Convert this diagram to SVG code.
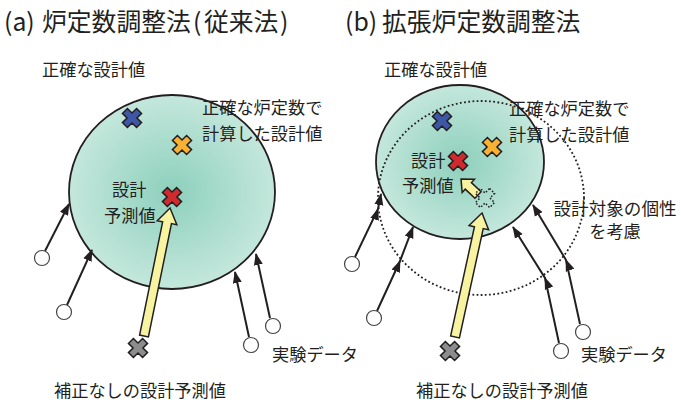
<svg xmlns="http://www.w3.org/2000/svg" width="681" height="402" viewBox="0 0 681 402">
<defs>
<radialGradient id="g" cx="50%" cy="50%" r="50%">
<stop offset="0" stop-color="#8dd0bb"/>
<stop offset="1" stop-color="#c4e7dc"/>
</radialGradient>
<marker id="ah" markerUnits="userSpaceOnUse" markerWidth="12" markerHeight="10" viewBox="0 0 12 10" refX="11" refY="5" orient="auto"><path d="M0,0.5 L12,5 L0,9.5 z" fill="#231f20"/></marker>
<path id="xm" transform="rotate(45)" d="M-3.5,-10 H3.5 V-3.5 H10 V3.5 H3.5 V10 H-3.5 V3.5 H-10 V-3.5 H-3.5 Z"/>
</defs>
<style>
text{font-family:"Noto Sans CJK JP","Noto Sans",sans-serif;fill:#231f20;font-size:17.2px}
.title{font-size:24.8px}
.blob{fill:url(#g);stroke:#231f20;stroke-width:1.8}
.dotted{fill:none;stroke:#231f20;stroke-width:1.8;stroke-dasharray:1.8 2.4}
.conn{fill:none;stroke:#231f20;stroke-width:2;marker-end:url(#ah)}
.conn2{fill:none;stroke:#231f20;stroke-width:2;marker-mid:url(#ah);marker-end:url(#ah)}
.dp{fill:#fff;stroke:#444;stroke-width:1.2}
.x{stroke:#231f20;stroke-width:1.5}
.xd{fill:none;stroke:#231f20;stroke-width:1.5;stroke-dasharray:1.6 1.8}
.ya{fill:#f7f3a1;stroke:#231f20;stroke-width:1.5}
</style>

<!-- Panel (a) -->
<g id="region-a">
<ellipse class="blob" cx="172" cy="192" rx="103" ry="97"/>
</g>

<g id="connectors">
<path class="conn" d="M45,251 L69,204"/>
<path class="conn" d="M67,305 L92,250"/>
<path class="conn" d="M249,337 L235,272"/>
<path class="conn" d="M270,318 L256,254"/>
</g>

<g id="region-b">
<ellipse class="blob" cx="460" cy="162" rx="84" ry="77"/>
<ellipse class="dotted" cx="481" cy="198" rx="103" ry="97"/>
</g>

<g id="connectors-b">
<polyline class="conn2" points="355,257 378,209 381,194"/>
<polyline class="conn2" points="377,311 400,261 413,227"/>
<polyline class="conn2" points="559,343 545,278 513,227"/>
<polyline class="conn2" points="580,324 566,260 533,205"/>
</g>

<g id="data-a">
<circle class="dp" cx="42" cy="258" r="7.5"/>
<circle class="dp" cx="64" cy="312" r="7.5"/>
<circle class="dp" cx="251" cy="345" r="7.5"/>
<circle class="dp" cx="273" cy="326" r="7.5"/>
</g>
<g id="data-b">
<circle class="dp" cx="352" cy="264" r="7.5"/>
<circle class="dp" cx="374" cy="318" r="7.5"/>
<circle class="dp" cx="561" cy="351" r="7.5"/>
<circle class="dp" cx="583" cy="332" r="7.5"/>
</g>

<g id="arrow-a">
<polygon class="ya" transform="translate(144,336) rotate(-78.5)" points="0,-4.5 115.6,-4.5 115.6,-10 130.6,0 115.6,10 115.6,4.5 0,4.5"/>
</g>
<g id="arrow-b">
<polygon class="ya" transform="translate(455,337) rotate(-77.7)" points="0,-4.5 111.9,-4.5 111.9,-10 126.9,0 111.9,10 111.9,4.5 0,4.5"/>
</g>
<g id="arrow-b-small">
<polygon class="ya" transform="translate(478,195) rotate(-136.7)" points="0,-4.5 13.3,-4.5 13.3,-9 23.3,0 13.3,9 13.3,4.5 0,4.5"/>
</g>

<g id="marks-a">
<use href="#xm" class="x" x="132" y="118" fill="#3d57a6"/>
<use href="#xm" class="x" x="182" y="145" fill="#f8b133"/>
<use href="#xm" class="x" x="172" y="197" fill="#cf2b2f"/>
<use href="#xm" class="x" x="138" y="348" fill="#8c8c8c"/>
</g>
<g id="marks-b">
<use href="#xm" class="x" x="442" y="121" fill="#3d57a6"/>
<use href="#xm" class="x" x="492" y="147" fill="#f8b133"/>
<use href="#xm" class="x" x="458" y="161" fill="#cf2b2f"/>
<use href="#xm" class="xd" x="485" y="198"/>
<use href="#xm" class="x" x="450" y="351" fill="#8c8c8c"/>
</g>

<g id="labels-a">
<text class="title" y="31"><tspan x="4">(a)</tspan><tspan x="42">炉定数調整法</tspan><tspan x="193">(</tspan><tspan x="204">従来法</tspan><tspan x="280">)</tspan></text>
<text x="42" y="76">正確な設計値</text>
<text x="202" y="114">正確な炉定数で</text>
<text x="202" y="140">計算した設計値</text>
<text x="112" y="196">設計</text>
<text x="104" y="222">予測値</text>
<text x="272" y="361">実験データ</text>
<text x="54" y="397">補正なしの設計予測値</text>
</g>
<g id="labels-b">
<text class="title" y="31"><tspan x="345">(b)</tspan><tspan x="382">拡張炉定数調整法</tspan></text>
<text x="384" y="76">正確な設計値</text>
<text x="509" y="115">正確な炉定数で</text>
<text x="509" y="141">計算した設計値</text>
<text x="411" y="167">設計</text>
<text x="402" y="192">予測値</text>
<text x="615" y="215" text-anchor="middle" style="font-size:17.6px">設計対象の個性</text>
<text x="615" y="238" text-anchor="middle" style="font-size:17.2px">を考慮</text>
<text x="581" y="361">実験データ</text>
<text x="416" y="397">補正なしの設計予測値</text>
</g>
</svg>
